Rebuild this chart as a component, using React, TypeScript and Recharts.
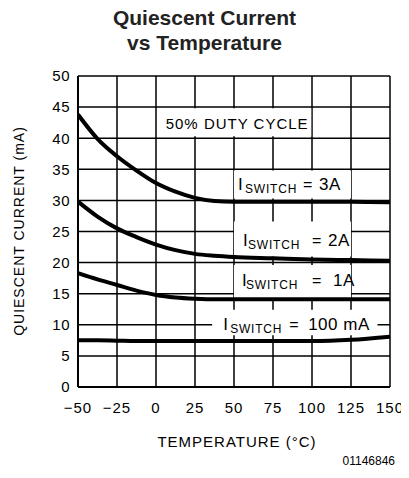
import React from 'react';
import { LineChart, Line, XAxis, YAxis, CartesianGrid, ReferenceArea } from 'recharts';

const temps = [-50, -37.5, -25, -12.5, 0, 12.5, 25, 37.5, 50, 75, 100, 125, 150];
const switch3A = [43.8, 39.9, 37.1, 34.8, 32.8, 31.4, 30.4, 29.9, 29.8, 29.8, 29.8, 29.8, 29.7];
const switch2A = [29.8, 27.4, 25.5, 24.1, 22.9, 22.0, 21.4, 21.1, 20.9, 20.7, 20.5, 20.4, 20.3];
const switch1A = [18.3, 17.3, 16.4, 15.5, 14.8, 14.4, 14.2, 14.1, 14.1, 14.1, 14.1, 14.1, 14.1];
const switch100mA = [7.5, 7.5, 7.45, 7.4, 7.4, 7.4, 7.4, 7.4, 7.4, 7.4, 7.4, 7.6, 8.1];

const xTicks = [-50, -25, 0, 25, 50, 75, 100, 125, 150];
const yTicks = [0, 5, 10, 15, 20, 25, 30, 35, 40, 45, 50];

const toSeries = (values: number[]) => temps.map((t, i) => ({ t, v: values[i] }));

const FONT = '"Liberation Sans", Arial, sans-serif';

// label inside a white box: I + subscript SWITCH + "= value"
const switchLabel = (value: string, offs: number[], base: number) => (props: any) => {
  const { x, y } = props.viewBox;
  const b = y + base;
  return (
    <g fontFamily={FONT} fill="#000">
      <text x={x + offs[0]} y={b} fontSize={17}>I</text>
      <text x={x + offs[1]} y={b + 3} fontSize={12} letterSpacing={0.8}>SWITCH</text>
      <text x={x + offs[2]} y={b} fontSize={16}>=</text>
      <text x={x + offs[3]} y={b} fontSize={17} letterSpacing={0.5}>{value}</text>
    </g>
  );
};

const dutyLabel = (props: any) => {
  const { x, y, width } = props.viewBox;
  return (
    <text x={x + width / 2 + 2} y={y + 21} textAnchor="middle" fontFamily={FONT} fontSize={15} letterSpacing={1}>
      50% DUTY CYCLE
    </text>
  );
};

const App: React.FC = () => {
  return (
    <div style={{ position: 'relative', width: 409, height: 478, margin: -8, background: '#fff' }}>
      <div style={{ position: 'absolute', top: 5, width: 409, textAlign: 'center', fontFamily: FONT, fontWeight: 'bold', fontSize: 21, lineHeight: '25px', color: '#222' }}>
        Quiescent Current<br />vs Temperature
      </div>
      <LineChart width={409} height={478} margin={{ top: 76, right: 19, bottom: 61, left: 0 }}>
        <CartesianGrid stroke="#000" strokeWidth={1.5} fill="none" />
        <XAxis
          type="number"
          dataKey="t"
          domain={[-50, 150]}
          ticks={xTicks}
          height={30}
          axisLine={{ stroke: '#000', strokeWidth: 2 }}
          tickLine={false}
          tick={{ fill: '#000', fontSize: 15, fontFamily: FONT, letterSpacing: 1 }}
          tickFormatter={(v: number) => (v < 0 ? `\u2212${-v}` : `${v}`)}
          dy={7}
          allowDataOverflow
        />
        <YAxis
          type="number"
          domain={[0, 50]}
          ticks={yTicks}
          width={78}
          axisLine={{ stroke: '#000', strokeWidth: 2 }}
          tickLine={false}
          tick={{ fill: '#000', fontSize: 15, fontFamily: FONT, letterSpacing: 0.5 }}
          dx={0}
        />
        <ReferenceArea x1={2} x2={99.5} y1={40.3} y2={44.8} fill="#fff" fillOpacity={1} stroke="none" label={dutyLabel} />
        <ReferenceArea x1={50} x2={125} y1={30.3} y2={34.8} fill="#fff" fillOpacity={1} stroke="none" label={switchLabel('3A', [4, 11, 69, 85], 19)} />
        <ReferenceArea x1={50} x2={125} y1={21.0} y2={26.6} fill="#fff" fillOpacity={1} stroke="none" label={switchLabel('2A', [9, 14, 78, 94], 24)} />
        <ReferenceArea x1={50} x2={125} y1={14.3} y2={19.6} fill="#fff" fillOpacity={1} stroke="none" label={switchLabel('1A', [8, 12, 78, 99], 21)} />
        <ReferenceArea x1={36} x2={142} y1={8.3} y2={12.4} fill="#fff" fillOpacity={1} stroke="none" label={switchLabel('100 mA', [11, 18, 77, 96], 20)} />
        <Line data={toSeries(switch3A)} dataKey="v" type="monotone" stroke="#000" strokeWidth={4} dot={false} isAnimationActive={false} />
        <Line data={toSeries(switch2A)} dataKey="v" type="monotone" stroke="#000" strokeWidth={4} dot={false} isAnimationActive={false} />
        <Line data={toSeries(switch1A)} dataKey="v" type="monotone" stroke="#000" strokeWidth={4} dot={false} isAnimationActive={false} />
        <Line data={toSeries(switch100mA)} dataKey="v" type="monotone" stroke="#000" strokeWidth={4} dot={false} isAnimationActive={false} />
        <text x={20} y={231} transform="rotate(-90 20 231)" textAnchor="middle" dominantBaseline="middle" fontFamily={FONT} fontSize={14} letterSpacing={1}>
          QUIESCENT CURRENT (mA)
        </text>
        <text x={237} y={447} textAnchor="middle" fontFamily={FONT} fontSize={15} letterSpacing={1}>
          TEMPERATURE (°C)
        </text>
        <text x={395} y={465} textAnchor="end" fontFamily={FONT} fontSize={12}>
          01146846
        </text>
      </LineChart>
    </div>
  );
};

export default App;
